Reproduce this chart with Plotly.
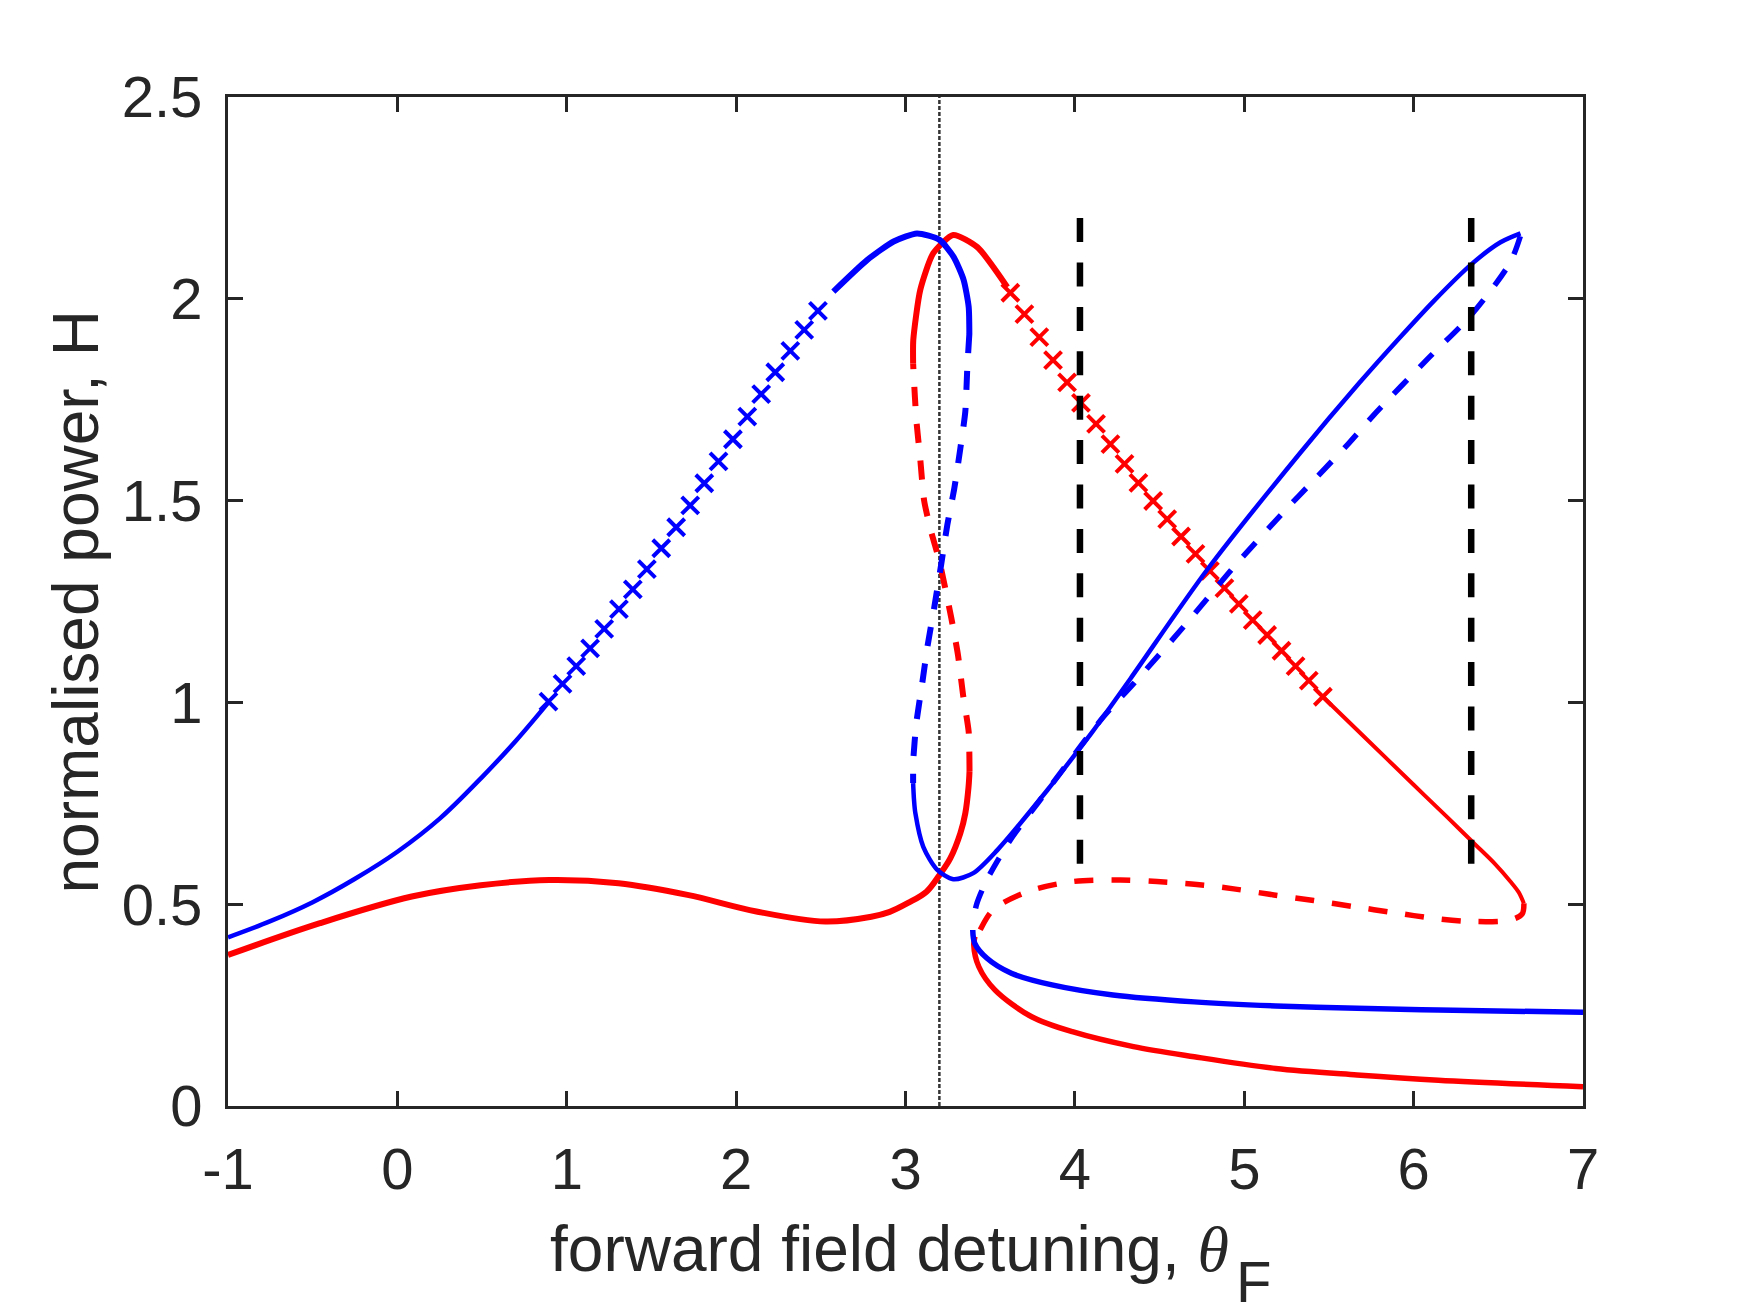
import plotly.graph_objects as go

# ---- data (theta_F, H) ----
# blue branch
blue_a_x = [-1.0, -0.75, -0.5, -0.25, 0.0, 0.25, 0.5, 0.7, 0.892]
blue_a_h = [0.418, 0.458, 0.505, 0.563, 0.630, 0.712, 0.815, 0.905, 1.0]

blue_mark_x = [0.892, 0.975, 1.056, 1.138, 1.221, 1.308, 1.390, 1.473, 1.558, 1.646,
               1.729, 1.812, 1.896, 1.981, 2.066, 2.148, 2.231, 2.320, 2.402, 2.483]
blue_mark_h = [1.002, 1.046, 1.090, 1.134, 1.182, 1.231, 1.280, 1.330, 1.382, 1.434,
               1.488, 1.543, 1.597, 1.652, 1.708, 1.764, 1.818, 1.871, 1.923, 1.970]

blue_b_x = [2.574, 2.773, 2.930, 3.068, 3.201, 3.284, 3.343, 3.373, 3.377]
blue_b_h = [2.018, 2.096, 2.142, 2.162, 2.146, 2.104, 2.047, 1.980, 1.913]

blue_c_x = [3.377, 3.365, 3.353, 3.324, 3.288, 3.247, 3.210, 3.170, 3.129, 3.099, 3.064, 3.046, 3.045]
blue_c_h = [1.913, 1.830, 1.720, 1.630, 1.530, 1.440, 1.340, 1.236, 1.137, 1.048, 0.949, 0.857, 0.800]

blue_d_x = [3.045, 3.050, 3.058, 3.105, 3.188, 3.282, 3.400, 3.542, 3.838, 4.027, 4.100,
            4.330, 4.780, 5.330, 5.676, 5.923, 6.120, 6.342, 6.513, 6.631]
blue_d_h = [0.800, 0.760, 0.726, 0.642, 0.585, 0.562, 0.577, 0.634, 0.783, 0.885, 0.925,
            1.060, 1.328, 1.618, 1.790, 1.906, 1.995, 2.086, 2.140, 2.162]

blue_e_x = [6.630, 6.570, 6.340, 6.080, 5.760, 5.617, 5.410, 5.253, 4.939, 4.643, 4.348,
            4.170, 3.950, 3.780, 3.620, 3.480, 3.420, 3.397]
blue_e_h = [2.155, 2.090, 1.960, 1.850, 1.710, 1.642, 1.550, 1.481, 1.336, 1.188, 1.047,
            0.965, 0.845, 0.750, 0.660, 0.560, 0.500, 0.453]

blue_f_x = [3.397, 3.409, 3.481, 3.625, 3.865, 4.225, 4.705, 5.186, 5.666, 6.146, 7.0]
blue_f_h = [0.436, 0.403, 0.366, 0.329, 0.300, 0.275, 0.258, 0.248, 0.242, 0.238, 0.232]

# red branch
red_f_x = [-1.0, -0.457, 0.085, 0.492, 0.895, 1.306, 1.713, 2.120, 2.527, 2.798, 2.907,
           3.015, 3.124, 3.200, 3.265, 3.324, 3.353, 3.372, 3.378]
red_f_h = [0.374, 0.453, 0.519, 0.547, 0.560, 0.552, 0.523, 0.482, 0.457, 0.469, 0.481,
           0.503, 0.531, 0.572, 0.614, 0.676, 0.725, 0.790, 0.830]

red_g_x = [3.378, 3.373, 3.340, 3.310, 3.270, 3.200, 3.147, 3.110, 3.087, 3.064, 3.048, 3.045]
red_g_h = [0.830, 0.927, 1.018, 1.117, 1.210, 1.350, 1.430, 1.500, 1.603, 1.700, 1.814, 1.840]

red_h_x = [3.045, 3.046, 3.087, 3.164, 3.282, 3.424, 3.601]
red_h_h = [1.840, 1.898, 2.022, 2.113, 2.158, 2.128, 2.029]

red_mark_x = [3.619, 3.702, 3.790, 3.871, 3.954, 4.036, 4.125, 4.210, 4.293, 4.375, 4.462, 4.545,
              4.627, 4.712, 4.797, 4.883, 4.968, 5.050, 5.135, 5.220, 5.303, 5.381, 5.464]
red_mark_h = [2.015, 1.962, 1.905, 1.848, 1.793, 1.742, 1.690, 1.640, 1.591, 1.544, 1.499, 1.454,
              1.411, 1.368, 1.326, 1.283, 1.244, 1.204, 1.167, 1.128, 1.090, 1.054, 1.014]

red_i_x = [5.464, 5.700, 6.000, 6.200, 6.356, 6.480, 6.570, 6.620, 6.651]
red_i_h = [1.014, 0.918, 0.796, 0.715, 0.651, 0.600, 0.557, 0.530, 0.502]

red_j_x = [6.651, 6.641, 6.572, 6.356, 6.120, 5.884, 5.647, 5.410, 5.175, 4.938, 4.720,
           4.485, 4.268, 3.985, 3.720, 3.517, 3.440, 3.410]
red_j_h = [0.502, 0.476, 0.461, 0.457, 0.465, 0.479, 0.494, 0.509, 0.523, 0.538, 0.549,
           0.556, 0.560, 0.556, 0.531, 0.486, 0.436, 0.410]

red_k_x = [3.410, 3.403, 3.433, 3.529, 3.745, 3.985, 4.346, 4.705, 5.186, 5.666, 6.146, 7.0]
red_k_h = [0.420, 0.400, 0.345, 0.287, 0.221, 0.184, 0.147, 0.122, 0.093, 0.077, 0.064, 0.048]

# reference lines (black drawn top to bottom)
black_x = [4.03, 6.34]
black_h = [2.2, 0.6]
dotted_x = 3.2
dotted_h = [0.0, 2.5]

x_ticks = [-1, 0, 1, 2, 3, 4, 5, 6, 7]
x_tick_text = ["-1", "0", "1", "2", "3", "4", "5", "6", "7"]
y_ticks = [0, 0.5, 1, 1.5, 2, 2.5]
y_tick_text = ["0", "0.5", "1", "1.5", "2", "2.5"]

BLUE = "#0000ff"
RED = "#ff0000"
AXC = "#262626"
FONT = "Liberation Sans"

fig = go.Figure()


def add_line(x, h, color, width=5, dash="solid", smooth=0.6):
    fig.add_trace(go.Scatter(
        x=x, y=h, mode="lines",
        line=dict(color=color, width=width, dash=dash, shape="spline", smoothing=smooth),
        showlegend=False, hoverinfo="skip"))


def add_marks(x, h, color):
    fig.add_trace(go.Scatter(
        x=x, y=h, mode="markers",
        marker=dict(symbol="x-thin", size=17, line=dict(color=color, width=4)),
        showlegend=False, hoverinfo="skip"))


# dotted guide at theta_F = 3.2
fig.add_trace(go.Scatter(x=[dotted_x, dotted_x], y=dotted_h, mode="lines",
                         line=dict(color="#333333", width=2.5, dash="4px,2px"),
                         showlegend=False, hoverinfo="skip"))

dash_pat = "19px,18px"
add_line(red_f_x, red_f_h, RED, 6, smooth=1.0)
add_line(red_g_x, red_g_h, RED, 6, dash_pat)
add_line(red_h_x, red_h_h, RED, 6)
add_marks(red_mark_x, red_mark_h, RED)
add_line(red_i_x, red_i_h, RED, 4, smooth=0.9)
add_line(red_j_x, red_j_h, RED, 5.5, dash_pat, smooth=0.9)
add_line(red_k_x, red_k_h, RED, 5.5, smooth=0.9)

add_line(blue_a_x, blue_a_h, BLUE, 4.5, smooth=1.0)
add_marks(blue_mark_x, blue_mark_h, BLUE)
add_line(blue_b_x, blue_b_h, BLUE, 6)
add_line(blue_c_x, blue_c_h, BLUE, 6, dash_pat)
add_line(blue_d_x, blue_d_h, BLUE, 4.5, smooth=0.8)
add_line(blue_e_x, blue_e_h, BLUE, 5.5, dash_pat, smooth=0.8)
add_line(blue_f_x, blue_f_h, BLUE, 5.5, smooth=0.9)

for bx in black_x:
    fig.add_trace(go.Scatter(x=[bx, bx], y=black_h, mode="lines",
                             line=dict(color="black", width=6.5, dash="24px,20.4px"),
                             showlegend=False, hoverinfo="skip"))

axis_style = dict(
    showline=True, linecolor=AXC, linewidth=3, mirror="ticks",
    ticks="inside", ticklen=15, tickwidth=3, tickcolor=AXC,
    showgrid=False, zeroline=False,
    tickfont=dict(family=FONT, size=58, color=AXC),
)

fig.update_layout(
    width=1750, height=1313,
    margin=dict(l=220, r=175, t=89, b=215),
    plot_bgcolor="white", paper_bgcolor="white",
    xaxis=dict(range=[-1, 7], tickvals=x_ticks, ticktext=x_tick_text,
               ticklabelstandoff=10, **axis_style),
    yaxis=dict(range=[0, 2.5], tickvals=y_ticks, ticktext=y_tick_text,
               ticklabelstandoff=11, **axis_style),
    annotations=[
        dict(text="forward field detuning, <span style='font-family:Liberation Serif'><i>θ</i></span>",
             xref="paper", yref="paper", x=0.7402, y=-0.1417, xanchor="right", yanchor="middle",
             showarrow=False, font=dict(family=FONT, size=64, color=AXC)),
        dict(text="F",
             xref="paper", yref="paper", x=0.7425, y=-0.1744, xanchor="left", yanchor="middle",
             showarrow=False, font=dict(family=FONT, size=58, color=AXC)),
        dict(text="normalised power, H", textangle=-90,
             xref="paper", yref="paper", x=-0.1122, y=0.5, xanchor="center", yanchor="middle",
             showarrow=False, font=dict(family=FONT, size=64, color=AXC)),
    ],
)

fig.write_html("out.html")
